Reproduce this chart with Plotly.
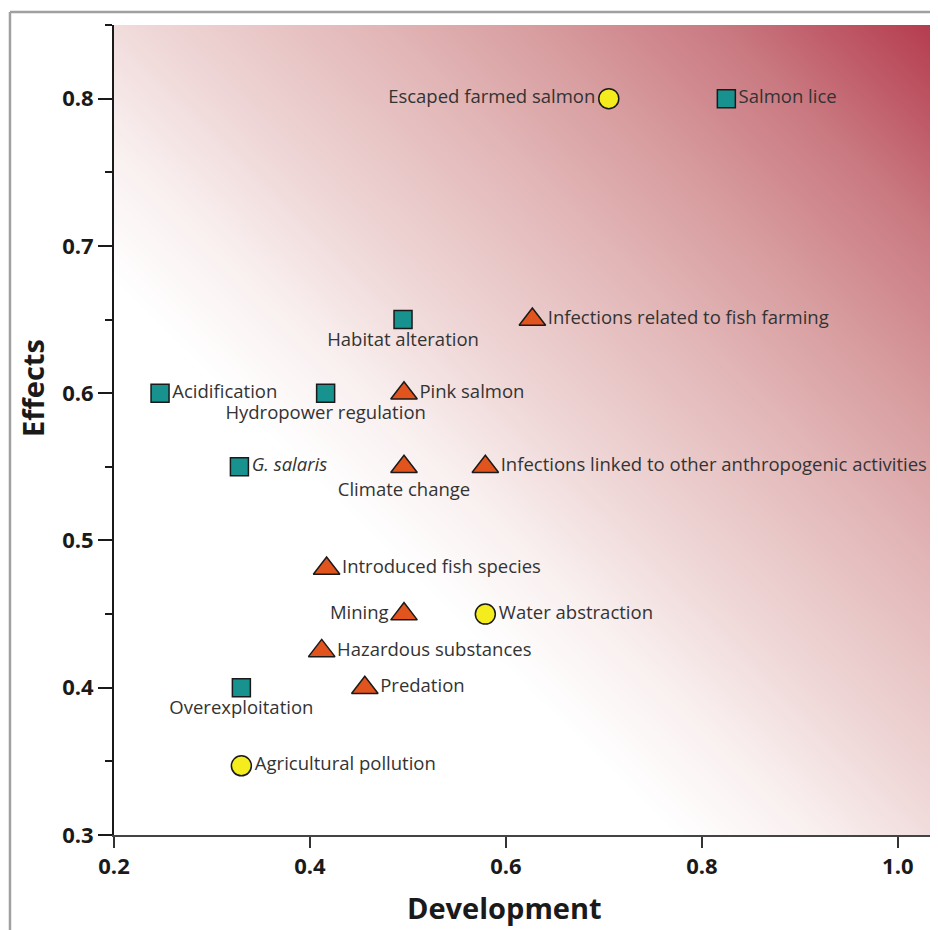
import numpy as np
import plotly.graph_objects as go

# ---- data ----
sq_labels = ["Salmon lice", "Habitat alteration", "Acidification", "Hydropower regulation",
             "<i>G. salaris</i>", "Overexploitation"]
sq_x = [0.825, 0.495, 0.247, 0.416, 0.328, 0.330]
sq_y = [0.800, 0.650, 0.600, 0.600, 0.550, 0.400]
sq_pos = ["middle right", "bottom center", "middle right", "bottom center", "middle right", "bottom center"]

tri_labels = ["Infections related to fish farming", "Pink salmon", "Climate change",
              "Infections linked to other anthropogenic activities", "Introduced fish species",
              "Mining", "Hazardous substances", "Predation"]
tri_x = [0.627, 0.496, 0.496, 0.579, 0.417, 0.496, 0.412, 0.456]
tri_y = [0.650, 0.600, 0.550, 0.550, 0.481, 0.450, 0.425, 0.400]
tri_pos = ["middle right", "middle right", "bottom center", "middle right", "middle right",
           "middle left", "middle right", "middle right"]

cir_labels = ["Escaped farmed salmon", "Water abstraction", "Agricultural pollution"]
cir_x = [0.705, 0.579, 0.330]
cir_y = [0.800, 0.450, 0.347]
cir_pos = ["middle left", "middle right", "middle right"]

x_ticks = [0.2, 0.4, 0.6, 0.8, 1.0]
x_ticktext = ["0.2", "0.4", "0.6", "0.8", "1.0"]
y_ticks = [0.3, 0.4, 0.5, 0.6, 0.7, 0.8]
y_ticktext = ["0.3", "0.4", "0.5", "0.6", "0.7", "0.8"]

XR = [0.2, 1.04]
YR = [0.3, 0.85]

# ---- background gradient (diagonal) ----
gx = np.linspace(XR[0], XR[1], 60)
gy = np.linspace(YR[0], YR[1], 60)
GX, GY = np.meshgrid(gx, gy)
Z = (GX - XR[0]) / (XR[1] - XR[0]) + (GY - YR[0]) / (YR[1] - YR[0])

bg_scale = [
    [0.0, "#ffffff"],
    [0.34, "#ffffff"],
    [0.43, "#f9efef"],
    [0.51, "#f0d9d9"],
    [0.65, "#e3b8b9"],
    [0.75, "#d89ea0"],
    [0.87, "#c97880"],
    [1.0, "#b43a4d"],
]

fig = go.Figure()
fig.add_trace(go.Heatmap(x=gx, y=gy, z=Z, zmin=0, zmax=2, colorscale=bg_scale,
                         zsmooth="best", showscale=False, hoverinfo="skip"))

txt_font = dict(family="Open Sans", size=18.5, color="#333333")
line = dict(color="#1a1a1a", width=1.5)

fig.add_trace(go.Scatter(x=sq_x, y=sq_y, mode="markers+text", text=sq_labels,
                         textposition=sq_pos, textfont=txt_font,
                         marker=dict(symbol="square", size=18, color="#17928f", line=line),
                         hoverinfo="skip"))
fig.add_trace(go.Scatter(x=tri_x, y=tri_y, mode="markers+text", text=tri_labels,
                         textposition=tri_pos, textfont=txt_font,
                         marker=dict(symbol="triangle-up", size=23, color="#e2541e", line=line),
                         hoverinfo="skip"))
fig.add_trace(go.Scatter(x=cir_x, y=cir_y, mode="markers+text", text=cir_labels,
                         textposition=cir_pos, textfont=txt_font,
                         marker=dict(symbol="circle", size=20, color="#f4ec1c", line=line),
                         hoverinfo="skip"))

tick_font = dict(family="Open Sans", size=22, color="#1a1a1a", weight="bold")
title_font = dict(family="Open Sans", size=29, color="#1a1a1a")

fig.update_layout(
    width=930, height=922,
    margin=dict(l=106, r=1, t=17, b=95),
    paper_bgcolor="white", plot_bgcolor="white",
    showlegend=False,
    font=dict(family="Open Sans", color="#1a1a1a"),
    xaxis=dict(range=XR, autorange=False, tickvals=x_ticks, ticktext=x_ticktext,
               ticks="outside", ticklen=11, tickwidth=2, tickcolor="#333333",
               showline=True, linewidth=2, linecolor="#444444", showgrid=False, zeroline=False,
               tickfont=tick_font),
    yaxis=dict(range=YR, autorange=False, tickvals=y_ticks, ticktext=y_ticktext,
               ticks="outside", ticklen=14, tickwidth=2, tickcolor="#1a1a1a",
               minor=dict(dtick=0.05, tick0=0.3, ticks="outside", ticklen=7, tickwidth=2,
                          tickcolor="#1a1a1a", showgrid=False),
               showline=True, linewidth=2, linecolor="#1a1a1a", showgrid=False, zeroline=False,
               tickfont=tick_font),
    annotations=[
        dict(text="<b>Development</b>", xref="paper", yref="paper", x=0.475, y=-0.090,
             xanchor="center", yanchor="middle", showarrow=False, font=title_font),
        dict(text="<b>Effects</b>", xref="paper", yref="paper", x=-0.0984, y=0.552,
             xanchor="center", yanchor="middle", showarrow=False, textangle=-90, font=title_font),
    ],
    shapes=[
        dict(type="line", xref="paper", yref="paper", x0=-0.1264, x1=1.2, y0=1.016, y1=1.016,
             line=dict(color="#a0a0a0", width=2.5)),
        dict(type="line", xref="paper", yref="paper", x0=-0.1264, x1=-0.1264, y0=1.016, y1=-0.2,
             line=dict(color="#a0a0a0", width=2.5)),
    ],
)

fig.write_html("out.html")
